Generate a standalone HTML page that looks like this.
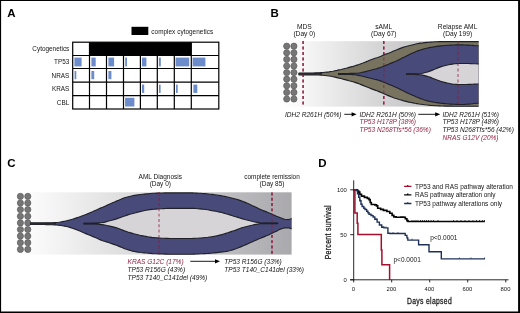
<!DOCTYPE html>
<html>
<head>
<meta charset="utf-8">
<title>Figure</title>
<style>
html,body{margin:0;padding:0;background:#fff;}
body{width:520px;height:313px;overflow:hidden;font-family:"Liberation Sans",sans-serif;}
svg{display:block;will-change:transform;}
text{font-family:"Liberation Sans",sans-serif;fill:#141414;}
.lbl{font-size:11.5px;font-weight:bold;fill:#000;}
.t{font-size:6.4px;}
.ti{font-size:6.55px;font-style:italic;}
.red{fill:#962040;}
.tk{font-size:5.9px;}
.lg{font-size:6.5px;}
</style>
</head>
<body>
<svg width="520" height="313" viewBox="0 0 520 313">
<defs>
<linearGradient id="gB" x1="0" y1="0" x2="1" y2="0">
<stop offset="0" stop-color="#ffffff"/>
<stop offset="0.1" stop-color="#f7f7f7"/>
<stop offset="1" stop-color="#a9a9ac"/>
</linearGradient>
<linearGradient id="gC" x1="0" y1="0" x2="1" y2="0">
<stop offset="0" stop-color="#ffffff"/>
<stop offset="0.1" stop-color="#f7f7f7"/>
<stop offset="1" stop-color="#a9a9ad"/>
</linearGradient>
</defs>
<rect x="0" y="0" width="520" height="313" fill="#fff"/>

<!-- ===== PANEL A ===== -->
<g id="panelA">
<text class="lbl" x="7.3" y="17.2">A</text>
<rect x="131.5" y="26.8" width="16.8" height="8.2" fill="#000"/>
<text class="t" x="151.3" y="33.5" textLength="61.8">complex cytogenetics</text>
<text class="t" x="69.3" y="51.2" text-anchor="end">Cytogenetics</text>
<text class="t" x="69.3" y="64.4" text-anchor="end">TP53</text>
<text class="t" x="69.3" y="77.8" text-anchor="end">NRAS</text>
<text class="t" x="69.3" y="91.4" text-anchor="end">KRAS</text>
<text class="t" x="69.3" y="104.6" text-anchor="end">CBL</text>
<!-- blue blocks -->
<g fill="#6b8bcb">
<rect x="74.4" y="57.6" width="7.2" height="8.8"/>
<rect x="91.4" y="57.6" width="4.3" height="8.8"/>
<rect x="108.4" y="57.6" width="5.7" height="8.8"/>
<rect x="125.2" y="57.6" width="1.8" height="8.8"/>
<rect x="142" y="57.6" width="4.4" height="8.8"/>
<rect x="158.9" y="57.6" width="1.9" height="8.8"/>
<rect x="175.6" y="57.6" width="13.6" height="8.8"/>
<rect x="192.6" y="57.6" width="12.8" height="8.8"/>
<rect x="74.6" y="71" width="1.7" height="8.2"/>
<rect x="91.4" y="71" width="2.8" height="8.2"/>
<rect x="108.4" y="71" width="3" height="8.2"/>
<rect x="142" y="84.6" width="2.2" height="8.3"/>
<rect x="159" y="84.6" width="1.6" height="8.3"/>
<rect x="176" y="84.6" width="1.7" height="8.3"/>
<rect x="193.4" y="84.6" width="3.9" height="8.3"/>
<rect x="125.1" y="97.8" width="9.3" height="8.7"/>
</g>
<!-- black bar -->
<rect x="89.5" y="42.2" width="101.8" height="13.3" fill="#000"/>
<!-- grid -->
<g stroke="#000" stroke-width="1.2" fill="none">
<rect x="72.7" y="42.2" width="146.1" height="66.8"/>
<path d="M72.7 55.5H218.8M72.7 68.5H218.8M72.7 82.2H218.8M72.7 95.6H218.8"/>
<path d="M89.5 42.2V109M106.5 42.2V109M123.5 42.2V109M140.4 42.2V109M157.3 42.2V109M174.3 42.2V109M191.3 42.2V109"/>
</g>
</g>

<g id="panelB">
<clipPath id="cB"><rect x="280" y="38" width="198.6" height="72"/></clipPath>
<text class="lbl" x="270.6" y="17.2">B</text>
<rect x="283" y="41.2" width="195.6" height="65.4" fill="url(#gB)"/>
<g fill="#767676" stroke="#5c5c5c" stroke-width="0.7"><circle cx="286.7" cy="46.2" r="3.1"/><circle cx="286.7" cy="52.8" r="3.1"/><circle cx="286.7" cy="59.4" r="3.1"/><circle cx="286.7" cy="66.0" r="3.1"/><circle cx="286.7" cy="72.6" r="3.1"/><circle cx="286.7" cy="79.2" r="3.1"/><circle cx="286.7" cy="85.8" r="3.1"/><circle cx="286.7" cy="92.4" r="3.1"/><circle cx="286.7" cy="99.0" r="3.1"/><circle cx="293.9" cy="46.2" r="3.1"/><circle cx="293.9" cy="52.8" r="3.1"/><circle cx="293.9" cy="59.4" r="3.1"/><circle cx="293.9" cy="66.0" r="3.1"/><circle cx="293.9" cy="72.6" r="3.1"/><circle cx="293.9" cy="79.2" r="3.1"/><circle cx="293.9" cy="85.8" r="3.1"/><circle cx="293.9" cy="92.4" r="3.1"/><circle cx="293.9" cy="99.0" r="3.1"/></g>
<g stroke="#8e1a3e" stroke-width="1.3" stroke-dasharray="3.1 2.4">
<path d="M303.1 40.9V107M383.8 40.9V107M458 40.9V107"/>
</g>
<g stroke="#1f2028" stroke-width="1.15" stroke-linejoin="round" clip-path="url(#cB)">
<path d="M299.0 73.0 L301.0 73.0 L303.0 73.0 L305.0 73.0 L307.0 73.0 L309.0 73.0 L311.0 73.0 L313.0 73.0 L315.0 72.9 L317.0 72.8 L319.0 72.8 L321.0 72.6 L323.0 72.5 L325.0 72.3 L327.0 72.1 L329.0 71.9 L331.0 71.5 L333.0 71.2 L335.0 70.8 L337.0 70.4 L339.0 69.9 L341.0 69.5 L343.0 69.0 L345.0 68.5 L347.0 68.0 L349.0 67.4 L351.0 66.9 L353.0 66.4 L355.0 65.8 L357.0 65.1 L359.0 64.5 L361.0 63.7 L363.0 63.0 L365.0 62.2 L367.0 61.4 L369.0 60.5 L371.0 59.7 L373.0 59.0 L375.0 58.3 L377.0 57.7 L379.0 57.0 L381.0 56.2 L383.0 55.2 L385.0 54.4 L387.0 53.7 L389.0 53.0 L391.0 52.2 L393.0 51.3 L395.0 50.5 L397.0 49.7 L399.0 48.9 L401.0 48.1 L403.0 47.4 L405.0 46.8 L407.0 46.2 L409.0 45.7 L411.0 45.2 L413.0 44.7 L415.0 44.2 L417.0 43.8 L419.0 43.4 L421.0 43.1 L423.0 42.9 L425.0 42.6 L427.0 42.4 L429.0 42.2 L431.0 42.1 L433.0 42.0 L435.0 41.8 L437.0 41.7 L439.0 41.6 L441.0 41.6 L443.0 41.6 L445.0 41.6 L447.0 41.6 L449.0 41.6 L451.0 41.6 L453.0 41.6 L455.0 41.6 L457.0 41.6 L459.0 41.6 L461.0 41.6 L463.0 41.6 L465.0 41.6 L467.0 41.6 L469.0 41.6 L471.0 41.6 L473.0 41.6 L475.0 41.6 L477.0 41.6 L479.0 41.6 L481.0 41.6 L483.0 41.6 L484.0 41.6 L484.0 106.2 L483.0 106.2 L481.0 106.2 L479.0 106.2 L477.0 106.2 L475.0 106.2 L473.0 106.2 L471.0 106.2 L469.0 106.2 L467.0 106.2 L465.0 106.2 L463.0 106.2 L461.0 106.2 L459.0 106.2 L457.0 106.2 L455.0 106.2 L453.0 106.2 L451.0 106.1 L449.0 106.1 L447.0 106.1 L445.0 106.1 L443.0 106.0 L441.0 106.0 L439.0 105.9 L437.0 105.8 L435.0 105.7 L433.0 105.5 L431.0 105.4 L429.0 105.2 L427.0 105.0 L425.0 104.8 L423.0 104.5 L421.0 104.2 L419.0 104.0 L417.0 103.6 L415.0 103.3 L413.0 102.9 L411.0 102.5 L409.0 102.1 L407.0 101.6 L405.0 101.1 L403.0 100.6 L401.0 100.0 L399.0 99.5 L397.0 98.8 L395.0 98.2 L393.0 97.5 L391.0 96.7 L389.0 95.9 L387.0 95.1 L385.0 94.2 L383.0 93.3 L381.0 92.4 L379.0 91.6 L377.0 90.8 L375.0 90.1 L373.0 89.4 L371.0 88.6 L369.0 87.8 L367.0 87.0 L365.0 86.2 L363.0 85.4 L361.0 84.6 L359.0 83.8 L357.0 83.1 L355.0 82.4 L353.0 81.8 L351.0 81.2 L349.0 80.7 L347.0 80.1 L345.0 79.6 L343.0 79.1 L341.0 78.5 L339.0 78.1 L337.0 77.6 L335.0 77.1 L333.0 76.7 L331.0 76.3 L329.0 76.0 L327.0 75.7 L325.0 75.5 L323.0 75.3 L321.0 75.2 L319.0 75.0 L317.0 75.0 L315.0 74.9 L313.0 74.8 L311.0 74.8 L309.0 74.8 L307.0 74.8 L305.0 74.8 L303.0 74.8 L301.0 74.8 L299.0 74.8Z" fill="#77735f"/>
<path d="M338.5 73.5 L340.5 73.5 L342.5 73.5 L344.5 73.5 L346.5 73.5 L348.5 73.5 L350.5 73.4 L352.5 73.4 L354.5 73.3 L356.5 73.2 L358.5 73.0 L360.5 72.7 L362.5 72.3 L364.5 71.9 L366.5 71.4 L368.5 70.8 L370.5 70.3 L372.5 69.7 L374.5 69.2 L376.5 68.7 L378.5 68.1 L380.5 67.5 L382.5 66.7 L384.5 65.9 L386.5 65.1 L388.5 64.2 L390.5 63.4 L392.5 62.6 L394.5 61.8 L396.5 60.9 L398.5 59.9 L400.5 58.9 L402.5 57.8 L404.5 56.9 L406.5 55.9 L408.5 54.9 L410.5 53.9 L412.5 53.0 L414.5 52.2 L416.5 51.3 L418.5 50.6 L420.5 50.0 L422.5 49.4 L424.5 48.8 L426.5 48.3 L428.5 47.9 L430.5 47.4 L432.5 47.1 L434.5 46.7 L436.5 46.4 L438.5 46.1 L440.5 45.9 L442.5 45.7 L444.5 45.5 L446.5 45.3 L448.5 45.2 L450.5 45.1 L452.5 45.0 L454.5 45.0 L456.5 44.9 L458.5 44.9 L460.5 44.9 L462.5 44.9 L464.5 45.0 L466.5 45.1 L468.5 45.1 L470.5 45.2 L472.5 45.4 L474.5 45.6 L476.5 45.7 L478.5 45.8 L480.5 45.8 L482.5 45.8 L484.0 45.8 L484.0 103.2 L482.5 103.2 L480.5 103.2 L478.5 103.2 L476.5 103.3 L474.5 103.5 L472.5 103.8 L470.5 104.0 L468.5 104.1 L466.5 104.2 L464.5 104.4 L462.5 104.5 L460.5 104.5 L458.5 104.5 L456.5 104.4 L454.5 104.3 L452.5 104.2 L450.5 104.1 L448.5 104.0 L446.5 103.8 L444.5 103.6 L442.5 103.4 L440.5 103.2 L438.5 102.9 L436.5 102.6 L434.5 102.3 L432.5 101.9 L430.5 101.5 L428.5 101.1 L426.5 100.6 L424.5 100.0 L422.5 99.3 L420.5 98.6 L418.5 97.8 L416.5 97.0 L414.5 96.1 L412.5 95.2 L410.5 94.3 L408.5 93.4 L406.5 92.4 L404.5 91.5 L402.5 90.6 L400.5 89.6 L398.5 88.6 L396.5 87.6 L394.5 86.7 L392.5 85.8 L390.5 85.0 L388.5 84.2 L386.5 83.3 L384.5 82.5 L382.5 81.7 L380.5 80.9 L378.5 80.2 L376.5 79.6 L374.5 79.2 L372.5 78.7 L370.5 78.3 L368.5 77.7 L366.5 77.2 L364.5 76.7 L362.5 76.3 L360.5 75.8 L358.5 75.4 L356.5 75.0 L354.5 74.8 L352.5 74.6 L350.5 74.4 L348.5 74.4 L346.5 74.3 L344.5 74.3 L342.5 74.3 L340.5 74.3 L338.5 74.3Z" fill="#484a79"/>
<path d="M406.5 73.9 L408.5 73.9 L410.5 73.9 L412.5 73.9 L414.5 73.9 L416.5 73.8 L418.5 73.7 L420.5 73.5 L422.5 73.2 L424.5 72.7 L426.5 72.2 L428.5 71.6 L430.5 70.9 L432.5 70.1 L434.5 69.3 L436.5 68.4 L438.5 67.6 L440.5 66.9 L442.5 66.2 L444.5 65.7 L446.5 65.2 L448.5 64.8 L450.5 64.4 L452.5 64.1 L454.5 63.8 L456.5 63.6 L458.5 63.5 L460.5 63.5 L462.5 63.5 L464.5 63.5 L466.5 63.5 L468.5 63.5 L470.5 63.6 L472.5 63.7 L474.5 63.7 L476.5 63.8 L478.5 63.8 L480.5 63.8 L482.5 63.8 L484.0 63.8 L484.0 84.0 L482.5 84.0 L480.5 84.0 L478.5 84.0 L476.5 84.0 L474.5 84.1 L472.5 84.2 L470.5 84.4 L468.5 84.4 L466.5 84.5 L464.5 84.5 L462.5 84.5 L460.5 84.5 L458.5 84.5 L456.5 84.4 L454.5 84.3 L452.5 84.1 L450.5 83.7 L448.5 83.3 L446.5 82.9 L444.5 82.4 L442.5 81.9 L440.5 81.2 L438.5 80.5 L436.5 79.8 L434.5 79.0 L432.5 78.2 L430.5 77.4 L428.5 76.7 L426.5 76.1 L424.5 75.6 L422.5 75.1 L420.5 74.7 L418.5 74.6 L416.5 74.6 L414.5 74.5 L412.5 74.5 L410.5 74.5 L408.5 74.5 L406.5 74.5Z" fill="#d6d4d7"/>
</g>
<path d="M298.6 73.9H322" stroke="#2a2a2e" stroke-width="1.9"/>
<path d="M338.5 73.9H352" stroke="#26262a" stroke-width="1.2"/>
<path d="M406.5 74.2H419" stroke="#26262a" stroke-width="1.2"/>
<g stroke="#8e1a3e" stroke-width="1.3" stroke-dasharray="3.1 2.4" opacity="0.6">
<path d="M303.1 40.9V107M383.8 40.9V107M458 40.9V107"/>
</g>
<g class="t" text-anchor="middle" style="font-size:6.65px">
<text x="304.3" y="28.5">MDS</text><text x="304.3" y="36.3">(Day 0)</text>
<text x="383.8" y="28.5">sAML</text><text x="383.8" y="36.3">(Day 67)</text>
<text x="457.6" y="28.5">Relapse AML</text><text x="457.6" y="36.3">(Day 199)</text>
</g>
<text class="ti" x="285" y="116.5">IDH2 R261H (50%)</text>
<path d="M344.3 114.3H353" stroke="#000" stroke-width="0.9"/><path d="M356.6 114.3L351.6 112.2V116.4Z" fill="#000"/>
<text class="ti" x="359.5" y="116.5">IDH2 R261H (50%)</text>
<text class="ti red" x="359.5" y="124.1">TP53 H178P (38%)</text>
<text class="ti red" x="359.5" y="131.7">TP53 N268Tfs*56 (36%)</text>
<path d="M418.3 114.3H436.5" stroke="#000" stroke-width="0.9"/><path d="M440.2 114.3L435.2 112.2V116.4Z" fill="#000"/>
<text class="ti" x="442.5" y="116.5">IDH2 R261H (51%)</text>
<text class="ti" x="442.5" y="124.1">TP53 H178P (48%)</text>
<text class="ti" x="442.5" y="131.7">TP53 N268Tfs*56 (42%)</text>
<text class="ti red" x="442.5" y="139.6">NRAS G12V (20%)</text>
</g>
<g id="panelC">
<text class="lbl" x="7.2" y="166.8">C</text>
<clipPath id="cC"><rect x="10" y="190" width="281.6" height="68"/></clipPath>
<rect x="17" y="192.3" width="274.6" height="62.3" fill="url(#gC)"/>
<g fill="#767676" stroke="#5c5c5c" stroke-width="0.7"><circle cx="20.4" cy="196.4" r="3.1"/><circle cx="20.4" cy="203.0" r="3.1"/><circle cx="20.4" cy="209.6" r="3.1"/><circle cx="20.4" cy="216.3" r="3.1"/><circle cx="20.4" cy="222.9" r="3.1"/><circle cx="20.4" cy="229.5" r="3.1"/><circle cx="20.4" cy="236.1" r="3.1"/><circle cx="20.4" cy="242.7" r="3.1"/><circle cx="20.4" cy="249.4" r="3.1"/><circle cx="27.8" cy="196.4" r="3.1"/><circle cx="27.8" cy="203.0" r="3.1"/><circle cx="27.8" cy="209.6" r="3.1"/><circle cx="27.8" cy="216.3" r="3.1"/><circle cx="27.8" cy="222.9" r="3.1"/><circle cx="27.8" cy="229.5" r="3.1"/><circle cx="27.8" cy="236.1" r="3.1"/><circle cx="27.8" cy="242.7" r="3.1"/><circle cx="27.8" cy="249.4" r="3.1"/></g>
<g stroke="#8e1a3e" stroke-width="1.3" stroke-dasharray="2.9 2.4">
<path d="M159 192.5V254.8M272 192.5V254.8"/>
</g>
<g stroke="#1f2028" stroke-width="1.15" stroke-linejoin="round" clip-path="url(#cC)">
<path d="M30.5 222.9 L32.5 222.9 L34.5 222.9 L36.5 222.9 L38.5 222.9 L40.5 222.9 L42.5 222.9 L44.5 222.9 L46.5 222.8 L48.5 222.8 L50.5 222.8 L52.5 222.7 L54.5 222.6 L56.5 222.5 L58.5 222.3 L60.5 222.0 L62.5 221.6 L64.5 221.2 L66.5 220.8 L68.5 220.3 L70.5 219.8 L72.5 219.2 L74.5 218.6 L76.5 217.9 L78.5 217.2 L80.5 216.5 L82.5 215.7 L84.5 215.0 L86.5 214.2 L88.5 213.4 L90.5 212.5 L92.5 211.7 L94.5 210.8 L96.5 209.9 L98.5 209.0 L100.5 208.1 L102.5 207.3 L104.5 206.4 L106.5 205.5 L108.5 204.6 L110.5 203.7 L112.5 202.8 L114.5 202.0 L116.5 201.1 L118.5 200.3 L120.5 199.4 L122.5 198.5 L124.5 197.8 L126.5 197.2 L128.5 196.7 L130.5 196.2 L132.5 195.8 L134.5 195.4 L136.5 195.1 L138.5 194.8 L140.5 194.5 L142.5 194.3 L144.5 194.1 L146.5 193.9 L148.5 193.7 L150.5 193.5 L152.5 193.3 L154.5 193.2 L156.5 193.1 L158.5 193.0 L160.5 193.0 L162.5 193.0 L164.5 192.9 L166.5 192.9 L168.5 192.9 L170.5 192.9 L172.5 192.9 L174.5 192.9 L176.5 192.9 L178.5 192.9 L180.5 192.9 L182.5 192.9 L184.5 192.9 L186.5 192.9 L188.5 192.9 L190.5 192.9 L192.5 192.9 L194.5 193.0 L196.5 193.1 L198.5 193.2 L200.5 193.3 L202.5 193.5 L204.5 193.6 L206.5 193.8 L208.5 194.0 L210.5 194.2 L212.5 194.4 L214.5 194.7 L216.5 195.0 L218.5 195.3 L220.5 195.6 L222.5 196.0 L224.5 196.4 L226.5 196.8 L228.5 197.2 L230.5 197.7 L232.5 198.2 L234.5 198.7 L236.5 199.3 L238.5 199.9 L240.5 200.6 L242.5 201.3 L244.5 202.1 L246.5 202.9 L248.5 203.8 L250.5 204.7 L252.5 205.7 L254.5 206.6 L256.5 207.5 L258.5 208.5 L260.5 209.4 L262.5 210.3 L264.5 211.1 L266.5 211.9 L268.5 212.7 L270.5 213.6 L272.5 214.5 L274.5 215.3 L276.5 216.2 L278.5 217.0 L280.5 217.8 L282.5 218.5 L284.5 219.3 L286.5 219.5 L288.5 219.5 L290.5 219.0 L292.5 218.3 L293.0 218.2 L293.0 229.4 L292.5 229.2 L290.5 228.4 L288.5 227.8 L286.5 227.8 L284.5 227.9 L282.5 228.5 L280.5 229.1 L278.5 230.1 L276.5 231.2 L274.5 232.1 L272.5 233.1 L270.5 234.1 L268.5 235.0 L266.5 235.8 L264.5 236.6 L262.5 237.4 L260.5 238.2 L258.5 239.0 L256.5 239.9 L254.5 240.8 L252.5 241.7 L250.5 242.6 L248.5 243.5 L246.5 244.4 L244.5 245.2 L242.5 246.1 L240.5 246.9 L238.5 247.7 L236.5 248.5 L234.5 249.2 L232.5 249.9 L230.5 250.5 L228.5 251.0 L226.5 251.4 L224.5 251.7 L222.5 251.9 L220.5 252.1 L218.5 252.4 L216.5 252.6 L214.5 252.9 L212.5 253.0 L210.5 253.2 L208.5 253.4 L206.5 253.5 L204.5 253.6 L202.5 253.7 L200.5 253.8 L198.5 254.0 L196.5 254.0 L194.5 254.1 L192.5 254.2 L190.5 254.2 L188.5 254.2 L186.5 254.2 L184.5 254.2 L182.5 254.2 L180.5 254.2 L178.5 254.2 L176.5 254.2 L174.5 254.2 L172.5 254.2 L170.5 254.2 L168.5 254.2 L166.5 254.1 L164.5 254.1 L162.5 254.0 L160.5 254.0 L158.5 253.9 L156.5 253.8 L154.5 253.7 L152.5 253.6 L150.5 253.4 L148.5 253.2 L146.5 253.0 L144.5 252.9 L142.5 252.7 L140.5 252.5 L138.5 252.2 L136.5 251.9 L134.5 251.5 L132.5 251.1 L130.5 250.5 L128.5 249.9 L126.5 249.3 L124.5 248.6 L122.5 247.8 L120.5 246.9 L118.5 246.1 L116.5 245.3 L114.5 244.6 L112.5 243.9 L110.5 243.2 L108.5 242.5 L106.5 241.9 L104.5 241.3 L102.5 240.7 L100.5 239.9 L98.5 239.0 L96.5 238.1 L94.5 237.2 L92.5 236.4 L90.5 235.5 L88.5 234.7 L86.5 233.9 L84.5 233.1 L82.5 232.2 L80.5 231.3 L78.5 230.5 L76.5 229.7 L74.5 228.9 L72.5 228.2 L70.5 227.6 L68.5 227.0 L66.5 226.5 L64.5 226.1 L62.5 225.7 L60.5 225.4 L58.5 225.2 L56.5 225.0 L54.5 224.9 L52.5 224.8 L50.5 224.7 L48.5 224.6 L46.5 224.6 L44.5 224.5 L42.5 224.5 L40.5 224.5 L38.5 224.5 L36.5 224.5 L34.5 224.5 L32.5 224.5 L30.5 224.5Z" fill="#484a79"/>
<path d="M83.8 223.2 L85.8 223.2 L87.8 223.2 L89.8 223.2 L91.8 223.2 L93.8 223.1 L95.8 223.1 L97.8 223.0 L99.8 222.9 L101.8 222.8 L103.8 222.4 L105.8 221.9 L107.8 221.3 L109.8 220.7 L111.8 220.2 L113.8 219.6 L115.8 219.1 L117.8 218.4 L119.8 217.7 L121.8 217.0 L123.8 216.2 L125.8 215.6 L127.8 214.9 L129.8 214.3 L131.8 213.8 L133.8 213.2 L135.8 212.7 L137.8 212.1 L139.8 211.6 L141.8 211.2 L143.8 210.7 L145.8 210.3 L147.8 209.9 L149.8 209.6 L151.8 209.4 L153.8 209.3 L155.8 209.1 L157.8 209.0 L159.8 208.8 L161.8 208.7 L163.8 208.6 L165.8 208.5 L167.8 208.4 L169.8 208.3 L171.8 208.3 L173.8 208.3 L175.8 208.3 L177.8 208.3 L179.8 208.3 L181.8 208.3 L183.8 208.3 L185.8 208.3 L187.8 208.3 L189.8 208.3 L191.8 208.3 L193.8 208.4 L195.8 208.5 L197.8 208.7 L199.8 208.9 L201.8 209.1 L203.8 209.3 L205.8 209.5 L207.8 209.8 L209.8 210.2 L211.8 210.6 L213.8 210.9 L215.8 211.3 L217.8 211.7 L219.8 212.1 L221.8 212.5 L223.8 213.1 L225.8 213.7 L227.8 214.3 L229.8 214.9 L231.8 215.5 L233.8 216.2 L235.8 216.8 L237.8 217.4 L239.8 218.0 L241.8 218.6 L243.8 219.2 L245.8 219.8 L247.8 220.3 L249.8 220.8 L251.8 221.3 L253.8 221.7 L255.8 222.1 L257.8 222.4 L259.8 222.7 L261.8 223.0 L263.8 223.1 L265.8 223.1 L267.8 223.1 L269.8 223.1 L271.8 223.1 L273.8 223.1 L275.8 223.0 L277.7 223.0 L277.7 223.4 L275.8 223.4 L273.8 223.4 L271.8 223.4 L269.8 223.4 L267.8 223.4 L265.8 223.4 L263.8 223.4 L261.8 223.6 L259.8 223.8 L257.8 224.1 L255.8 224.4 L253.8 224.8 L251.8 225.3 L249.8 225.7 L247.8 226.2 L245.8 226.7 L243.8 227.2 L241.8 227.8 L239.8 228.5 L237.8 229.3 L235.8 230.1 L233.8 230.8 L231.8 231.4 L229.8 232.1 L227.8 232.8 L225.8 233.4 L223.8 234.0 L221.8 234.6 L219.8 235.1 L217.8 235.6 L215.8 236.0 L213.8 236.4 L211.8 236.7 L209.8 237.0 L207.8 237.3 L205.8 237.5 L203.8 237.7 L201.8 237.9 L199.8 238.0 L197.8 238.2 L195.8 238.3 L193.8 238.4 L191.8 238.5 L189.8 238.5 L187.8 238.5 L185.8 238.5 L183.8 238.5 L181.8 238.5 L179.8 238.5 L177.8 238.5 L175.8 238.5 L173.8 238.5 L171.8 238.5 L169.8 238.5 L167.8 238.4 L165.8 238.4 L163.8 238.3 L161.8 238.2 L159.8 238.0 L157.8 237.9 L155.8 237.8 L153.8 237.6 L151.8 237.4 L149.8 237.1 L147.8 236.8 L145.8 236.4 L143.8 236.0 L141.8 235.6 L139.8 235.2 L137.8 234.7 L135.8 234.2 L133.8 233.7 L131.8 233.1 L129.8 232.6 L127.8 232.0 L125.8 231.3 L123.8 230.6 L121.8 229.8 L119.8 229.0 L117.8 228.2 L115.8 227.6 L113.8 227.1 L111.8 226.6 L109.8 226.1 L107.8 225.7 L105.8 225.3 L103.8 224.9 L101.8 224.6 L99.8 224.4 L97.8 224.1 L95.8 224.0 L93.8 224.0 L91.8 223.9 L89.8 223.9 L87.8 223.9 L85.8 223.9 L83.8 223.9Z" fill="#d6d4d7"/>
</g>
<path d="M30.5 223.7H56" stroke="#2a2a2e" stroke-width="1.7"/>
<path d="M83.8 223.55H97" stroke="#1f2028" stroke-width="1.4"/>
<path d="M263 223.5H277.6" stroke="#1f2028" stroke-width="1.6"/>
<g stroke="#8e1a3e" stroke-width="1.3" stroke-dasharray="2.9 2.4" opacity="0.6">
<path d="M159 192.5V254.8M272 192.5V254.8"/>
</g>
<g text-anchor="middle">
<text class="t" style="font-size:6.5px" x="160.3" y="178.6">AML Diagnosis</text><text class="t" style="font-size:6.5px" x="160.3" y="186">(Day 0)</text>
<text class="t" style="font-size:6.45px" x="272" y="178.6">complete remission</text><text class="t" style="font-size:6.5px" x="272" y="186">(Day 85)</text>
</g>
<text class="ti red" x="127.6" y="264">KRAS G12C (17%)</text>
<text class="ti" x="127.6" y="271.95">TP53 R156G (43%)</text>
<text class="ti" x="127.6" y="279.8">TP53 T140_C141del (49%)</text>
<path d="M190.3 261.3H216" stroke="#000" stroke-width="0.9"/><path d="M220 261.3L215 259.2V263.4Z" fill="#000"/>
<text class="ti" x="224.3" y="264">TP53 R156G (33%)</text>
<text class="ti" x="224.3" y="272.1">TP53 T140_C141del (33%)</text>
</g>
<g id="panelD">
<text class="lbl" x="318.3" y="166.8">D</text>
<g fill="none" stroke-linejoin="miter">
<path d="M353.7 189.8H356.3V189.9H357.5V191.0H358.7V192.1H359.8V194.4H361.5V196.1H364.4V197.3H367.3V198.4H369.0V199.6H370.2V202.5H371.3V204.5H374.8V204.8H376.5V205.9H377.7V208.2H380.6V209.4H383.4V210.4H386.9V211.5H389.8V213.2H392.1V215.3H393.8V216.9H396.1V217.2H400.7V217.1H403.6V217.2H405.3V218.7H406.9V220.6H408.0V221.5H484.8V221.5" stroke="#050505" stroke-width="1.65"/>
<path d="M412 221.5v-1.5M414 221.5v-1.5M416 221.5v-1.5M418 221.5v-1.5M420.5 221.5v-1.5M422.5 221.5v-1.5M424.5 221.5v-1.5M426.5 221.5v-1.5M428.5 221.5v-1.5M431 221.5v-1.5M433.5 221.5v-1.5M438 221.5v-1.5M453.5 221.5v-1.5M457 221.5v-1.5M461 221.5v-1.5M465 221.5v-1.5M469 221.5v-1.5M473 221.5v-1.5M476.5 221.5v-1.5M479.5 221.5v-1.5M482.5 221.5v-1.5M484.5 221.5v-1.5" stroke="#050505" stroke-width="0.7"/>
<path d="M353.7 189.8H355.8V190.3H357.5V193.8H358.7V197.3H359.8V200.7H361.0V204.2H362.1V206.5H363.8V208.2H365.0V209.6H366.7V211.2H367.9V212.8H369.0V214.3H371.0V215.6H373.1V217.0H374.8V219.3H377.1V222.1H379.4V225.0H381.7V227.3H384.0V227.9H387.2V227.9H387.9V233.2H389.8V233.5H404.0V233.5H405.2V235.4H406.9V237.9H407.8V240.1H418.6V240.1H418.6V244.8H429.0V244.8H429.0V251.8H441.3V251.8H441.3V258.9H485.0V258.9" stroke="#1f3158" stroke-width="1.4"/>
<path d="M357 190.3v-1.5M360.3 200.7v-1.5M366 209.6v-1.5M372 215.6v-1.5M376 219.3v-1.5M383 227.3v-1.5M386 227.9v-1.5M393 233.5v-1.5M398 233.5v-1.5M412 240.1v-1.5M459.4 258.9v-1.5M471 258.9v-1.5M484.6 258.9v-1.5" stroke="#1f3158" stroke-width="0.7"/>
<path d="M353.7 189.8 L354.9 189.8 L354.9 212.9 L357.2 212.9 L357.2 223.3 L357.9 223.3 L357.9 234.6 L381.3 234.6 L381.3 250.0 L381.9 250.0 L381.9 264.8 L389.6 264.8 L389.6 279.8" stroke="#a50f2d" stroke-width="1.5"/>
</g>
<g stroke="#111" stroke-width="0.9" fill="none">
<path d="M353.7 180.3V280.25"/>
<path d="M350.2 279.8H508.5"/>
<path d="M353.7 279.8V282.4M391.7 279.8V282.4M429.7 279.8V282.4M467.7 279.8V282.4M505.8 279.8V282.4"/>
<path d="M350.2 279.8H353.7M350.2 234.7H353.7M350.2 189.8H353.7"/>
</g>
<text class="tk" x="353.4" y="291.4" text-anchor="middle">0</text><text class="tk" x="391.4" y="291.4" text-anchor="middle">200</text><text class="tk" x="429.4" y="291.4" text-anchor="middle">400</text><text class="tk" x="467.4" y="291.4" text-anchor="middle">600</text><text class="tk" x="505.5" y="291.4" text-anchor="middle">800</text>
<text class="tk" x="346.9" y="281.9" text-anchor="end">0</text><text class="tk" x="346.9" y="236.8" text-anchor="end">50</text><text class="tk" x="346.9" y="191.9" text-anchor="end">100</text>
<text transform="translate(330.8 232.2) rotate(-90) scale(0.84 1)" text-anchor="middle" style="font-size:8.2px;letter-spacing:0.4px;fill:#1c1c1c;stroke:#1c1c1c;stroke-width:0.28px" x="0" y="0">Percent survival</text>
<text transform="translate(429.5 303.7) scale(0.83 1)" text-anchor="middle" style="font-size:8.2px;letter-spacing:0.4px;fill:#1c1c1c;stroke:#1c1c1c;stroke-width:0.28px" x="0" y="0">Days elapsed</text>
<g fill="none" stroke-width="1.4">
<path d="M404.1 186.4H411.4M407.7 186.4v-1.3" stroke="#a50f2d"/>
<path d="M404.1 194.9H411.4M407.7 194.9v-1.3" stroke="#050505"/>
<path d="M404.1 203.5H411.4M407.7 203.5v-1.3" stroke="#1f3158"/>
</g>
<text class="lg" x="415" y="188.7">TP53 and RAS pathway alteration</text>
<text class="lg" x="415" y="197.3" textLength="80.6">RAS pathway alteration only</text>
<text class="lg" x="415" y="205.8">TP53 pathway alterations only</text>
<text class="lg" x="430.2" y="240.0">p&lt;0.0001</text>
<text class="lg" x="393.5" y="261.8">p&lt;0.0001</text>
</g>

<!-- outer border -->
<path d="M0 0H520V313H0Z M1.1 0.9V311.4H518.1V0.9Z" fill="#000" fill-rule="evenodd"/>
</svg>
</body>
</html>
